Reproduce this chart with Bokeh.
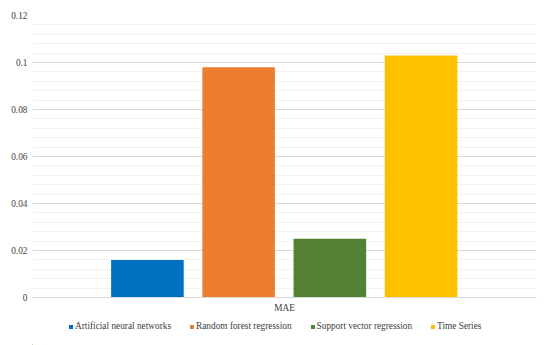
from bokeh.plotting import figure
from bokeh.layouts import column
from bokeh.models import Range1d, FactorRange, SingleIntervalTicker, NumeralTickFormatter, Legend, ColumnDataSource
from bokeh.transform import dodge
from bokeh.embed import file_html
from bokeh.resources import INLINE

category = ["MAE"]
series = ["Artificial neural networks", "Random forest regression", "Support vector regression", "Time Series"]
values = [0.016, 0.098, 0.025, 0.103]
colors = ["#0070C0", "#ED7D31", "#548235", "#FFC000"]
offsets = [-0.272, -0.091, 0.090, 0.271]

FONT = "Liberation Serif"
FS = "9.3px"
TXT = "#404040"

p = figure(width=548, height=315, x_range=FactorRange(*category), y_range=Range1d(0, 0.12),
           output_backend="svg", toolbar_location=None,
           min_border_left=32, min_border_right=12, min_border_top=15, min_border_bottom=18)
p.outline_line_color = None
p.background_fill_color = "white"
p.border_fill_color = "white"

for name, v, c, off in zip(series, values, colors, offsets):
    src = ColumnDataSource(dict(cat=category, val=[v]))
    p.vbar(x=dodge("cat", off, range=p.x_range), top="val", width=0.144, source=src,
           fill_color=c, line_color=None)

p.yaxis.ticker = SingleIntervalTicker(interval=0.02, num_minor_ticks=5)
p.yaxis.formatter = NumeralTickFormatter(format="0.[00]")
p.yaxis.axis_line_color = None
p.yaxis.major_tick_line_color = None
p.yaxis.minor_tick_line_color = None
p.yaxis.major_tick_out = 0
p.yaxis.major_tick_in = 0
p.yaxis.minor_tick_out = 0
p.yaxis.major_label_text_font = FONT
p.yaxis.major_label_text_font_size = FS
p.yaxis.major_label_text_color = TXT
p.yaxis.major_label_standoff = 5

p.ygrid.grid_line_color = "#d9d9d9"
p.ygrid.minor_grid_line_color = "#f2f2f2"
p.xgrid.grid_line_color = None

p.xaxis.axis_line_color = "#d9d9d9"
p.xaxis.major_tick_line_color = None
p.xaxis.minor_tick_line_color = None
p.xaxis.major_tick_out = 0
p.xaxis.major_tick_in = 0
p.xaxis.major_label_text_font = FONT
p.xaxis.major_label_text_font_size = FS
p.xaxis.major_label_text_color = TXT
p.xaxis.major_label_standoff = 5

# legend strip below the chart (no axes, frame fills the strip)
lf = figure(width=548, height=30, x_range=Range1d(0, 548), y_range=Range1d(0, 30),
            output_backend="svg", toolbar_location=None,
            x_axis_location=None, y_axis_location=None,
            min_border_left=0, min_border_right=0, min_border_top=0, min_border_bottom=0)
lf.grid.visible = False
lf.outline_line_color = None
lf.background_fill_color = "white"
lf.border_fill_color = "white"

items = []
for name, c in zip(series, colors):
    # off-screen proxy so the legend swatch gets its colour
    src = ColumnDataSource(dict(x=[-1000], top=[1]))
    r = lf.vbar(x="x", top="top", width=1, source=src, fill_color=c, line_color=None)
    items.append((name, [r]))

legend = Legend(items=items, orientation="horizontal", location=(36, 14),
                glyph_width=5, glyph_height=5, label_standoff=2, spacing=18,
                label_text_font=FONT, label_text_font_size=FS, label_text_color=TXT,
                border_line_color=None, background_fill_alpha=0, padding=0, margin=0,
                label_height=9)
lf.add_layout(legend)

layout = column(p, lf, spacing=0)
open("out.html", "w").write(file_html(layout, INLINE))
